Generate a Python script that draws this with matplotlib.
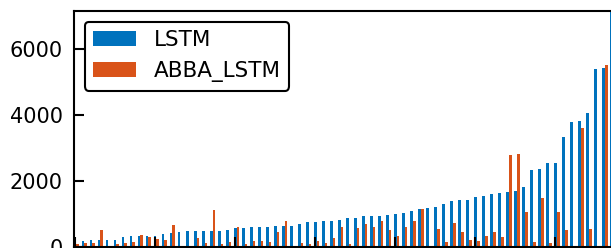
import numpy as np
import matplotlib
matplotlib.use('Agg')
import matplotlib.pyplot as plt

# Values (sorted by LSTM error)
lstm = [150, 167, 197, 197, 197, 197, 288, 318, 318, 318,
        330, 379, 409, 439, 470, 470, 470, 470, 470, 500,
        560, 560, 591, 591, 591, 621, 621, 621, 682, 742,
        742, 773, 773, 803, 864, 864, 924, 924, 924, 955,
        985, 1015, 1076, 1136, 1167, 1227, 1288, 1409, 1439, 1439,
        1530, 1560, 1621, 1651, 1682, 1712, 1833, 2348, 2379, 2560,
        2560, 3348, 3803, 3833, 4076, 5409, 5439, 7600]
abba_lstm = [76, 106, 106, 500, 0, 76, 106, 136, 348, 288,
             227, 197, 651, 0, 0, 258, 106, 1106, 76, 136,
             591, 76, 167, 167, 136, 439, 773, 0, 106, 76,
             167, 106, 258, 591, 76, 561, 682, 591, 773, 500,
             318, 591, 773, 1136, 0, 530, 136, 712, 439, 197,
             167, 318, 439, 288, 2803, 2833, 1045, 136, 1500, 106,
             1045, 500, 0, 3621, 530, 0, 5530, 0]
yticks = [0, 2000, 4000, 6000]

idx = np.arange(len(lstm))
w = 0.36

fig = plt.figure(figsize=(6.11, 2.48), dpi=100)
# axes runs off the right/bottom edge like the cropped reference
ax = fig.add_axes([73.8 / 611, 1.1 / 248, 561.5 / 611, 235.9 / 248])

ax.bar(idx, lstm, width=w, color='#0072BD', label='LSTM')
ax.bar(idx + w, abba_lstm, width=w, color='#D95319', label='ABBA_LSTM')

ax.set_xlim(-0.15, 70)
ax.set_ylim(0, 7165)
ax.set_yticks(yticks)
ax.set_xticks(np.arange(0, 70, 10))

for s in ax.spines.values():
    s.set_linewidth(1.5)
ax.tick_params(direction='in', length=7.5, width=1.5, labelsize=15, pad=8)
# x tick labels fall below the cropped edge in the reference
ax.tick_params(axis='x', labelbottom=False)

leg = ax.legend(loc='upper left', fontsize=15.5, framealpha=1, edgecolor='black')
leg.get_frame().set_linewidth(1.5)

fig.savefig('out.png', dpi=100)
